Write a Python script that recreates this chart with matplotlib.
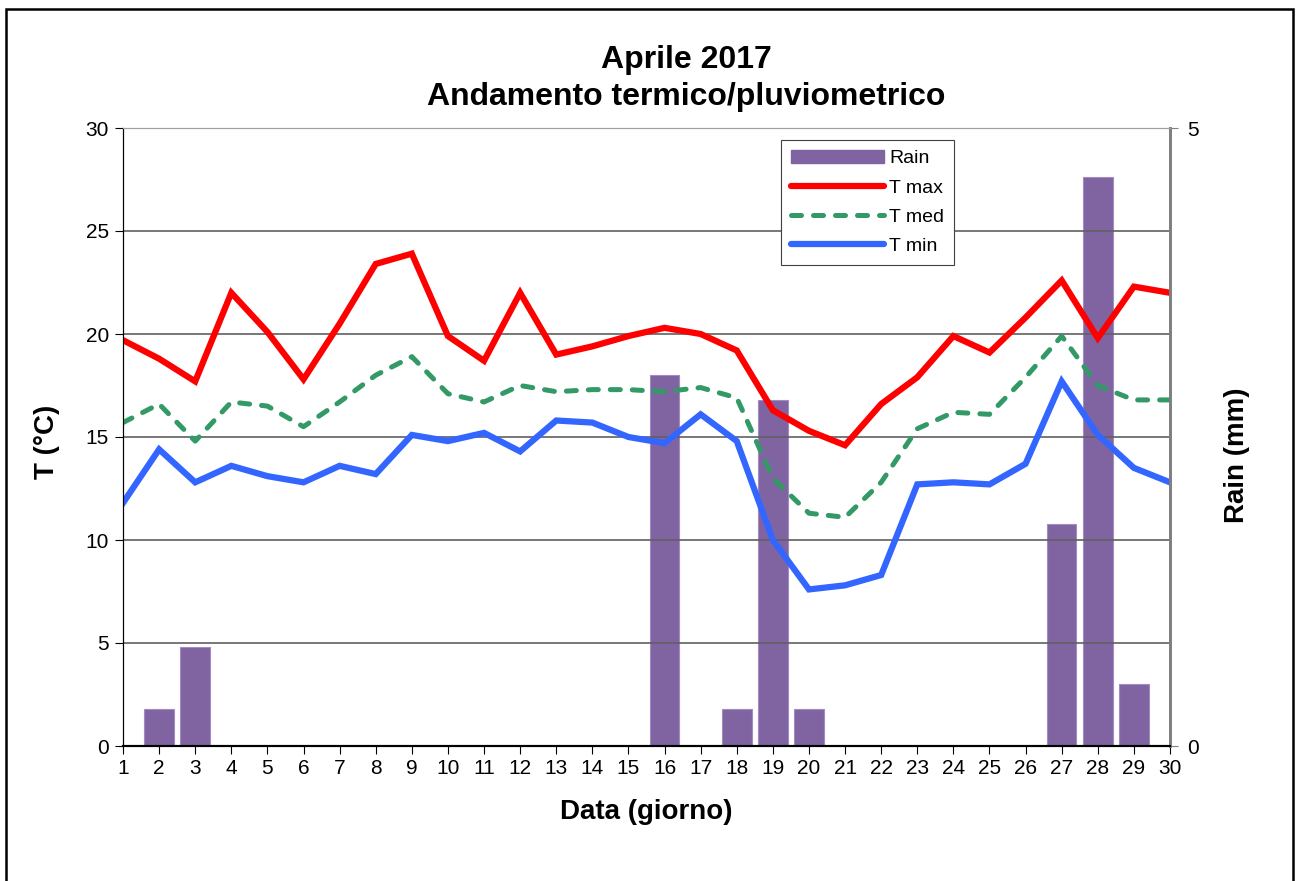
import matplotlib.pyplot as plt
from matplotlib.lines import Line2D
from matplotlib.patches import Patch, Rectangle

plt.rcParams['font.family'] = ['Liberation Sans', 'DejaVu Sans']

days = list(range(1, 31))
t_max = [19.7, 18.8, 17.7, 22.0, 20.1, 17.8, 20.5, 23.4, 23.9, 19.9,
         18.7, 22.0, 19.0, 19.4, 19.9, 20.3, 20.0, 19.2, 16.3, 15.3,
         14.6, 16.6, 17.9, 19.9, 19.1, 20.8, 22.6, 19.8, 22.3, 22.0]
t_med = [15.7, 16.6, 14.8, 16.7, 16.5, 15.5, 16.7, 18.0, 18.9, 17.1,
         16.7, 17.5, 17.2, 17.3, 17.3, 17.2, 17.4, 16.9, 13.0, 11.3,
         11.1, 12.8, 15.4, 16.2, 16.1, 17.9, 19.9, 17.5, 16.8, 16.8]
t_min = [11.8, 14.4, 12.8, 13.6, 13.1, 12.8, 13.6, 13.2, 15.1, 14.8,
         15.2, 14.3, 15.8, 15.7, 15.0, 14.7, 16.1, 14.8, 10.0, 7.6,
         7.8, 8.3, 12.7, 12.8, 12.7, 13.7, 17.7, 15.1, 13.5, 12.8]
rain = [0, 0.3, 0.8, 0, 0, 0, 0, 0, 0, 0,
        0, 0, 0, 0, 0, 3.0, 0, 0.3, 2.8, 0.3,
        0, 0, 0, 0, 0, 0, 1.8, 4.6, 0.5, 0]

fig = plt.figure(figsize=(12.97, 8.81), dpi=100)
ax = fig.add_axes([123/1297, 1-746/881, (1170-123)/1297, (746-128)/881])
ax2 = ax.twinx()

# frame around whole chart
fig.patches.append(Rectangle((6/1297, -0.05), (1293-6)/1297, 1.05 - 9/881,
                             transform=fig.transFigure, fill=False,
                             edgecolor='black', linewidth=1.8))

ax2.bar(days, rain, width=0.82, color='#8064a2', edgecolor='#a08cc0', linewidth=0.8, zorder=1)
ax2.set_ylim(0, 5)
ax2.set_yticks([0, 5])
ax2.set_ylabel('Rain (mm)', fontsize=20, fontweight='bold')
ax2.yaxis.set_label_coords(1.064, (746-455)/618)
ax2.yaxis.label.set_va('center')

ax.set_zorder(ax2.get_zorder() + 1)
ax.patch.set_visible(False)
ax2.patch.set_facecolor('#c0c0c0')

dash = (0, (2.0, 2.4))
ax.plot(days, t_max, color='#ff0000', linewidth=4.5, solid_joinstyle='miter')
ax.plot(days, t_med, color='#339966', linewidth=3.6, linestyle=dash,
        dash_capstyle='round')
ax.plot(days, t_min, color='#3366ff', linewidth=4.5, solid_joinstyle='miter')

ax.set_xlim(1, 30)
ax.set_ylim(0, 30)
ax.set_yticks(range(0, 31, 5))
ax.set_xticks(days)
for y in range(5, 30, 5):
    ax.axhline(y, color='#606060', linewidth=1.2, zorder=0)

ax.tick_params(axis='both', labelsize=15, length=6, direction='out', pad=4)
ax.tick_params(axis='x', pad=3)
ax2.tick_params(axis='y', labelsize=15, length=6, color='#808080', pad=6)
ax.set_xlabel('Data (giorno)', fontsize=20, fontweight='bold')
ax.xaxis.set_label_coords(0.5, -(812-746)/618)
ax.xaxis.label.set_va('center')
ax.set_ylabel('T (°C)', fontsize=20, fontweight='bold')
ax.yaxis.set_label_coords(-(123-47)/1047, (746-442)/618)
ax.yaxis.label.set_va('center')

for a in (ax, ax2):
    a.spines['top'].set_color('#a0a0a0')
    a.spines['right'].set_color('#808080')
    a.spines['right'].set_linewidth(2)
    a.spines['left'].set_color('black')
    a.spines['bottom'].set_color('black')
    a.spines['bottom'].set_linewidth(1.5)

fig.text(686/1297, 1-60/881, 'Aprile 2017', ha='center', va='center',
         fontsize=23, fontweight='bold')
fig.text(686/1297, 1-97/881, 'Andamento termico/pluviometrico', ha='center', va='center',
         fontsize=23, fontweight='bold')

handles = [Patch(facecolor='#8064a2', edgecolor='#8064a2'),
           Line2D([], [], color='#ff0000', linewidth=4.5, solid_capstyle='round'),
           Line2D([], [], color='#339966', linewidth=3.6, linestyle=dash,
                  dash_capstyle='round'),
           Line2D([], [], color='#3366ff', linewidth=4.5, solid_capstyle='round')]
leg = ax.legend(handles, ['Rain', 'T max', 'T med', 'T min'],
                loc='upper left', bbox_to_anchor=((781-123)/1047, 1-(140-128)/618),
                borderaxespad=0, fontsize=14, frameon=True, fancybox=False,
                framealpha=1, edgecolor='#404040', handlelength=4.8,
                handletextpad=0.25, labelspacing=0.6, borderpad=0.5)
leg.get_frame().set_linewidth(0.8)

fig.savefig('out.png', dpi=100)
